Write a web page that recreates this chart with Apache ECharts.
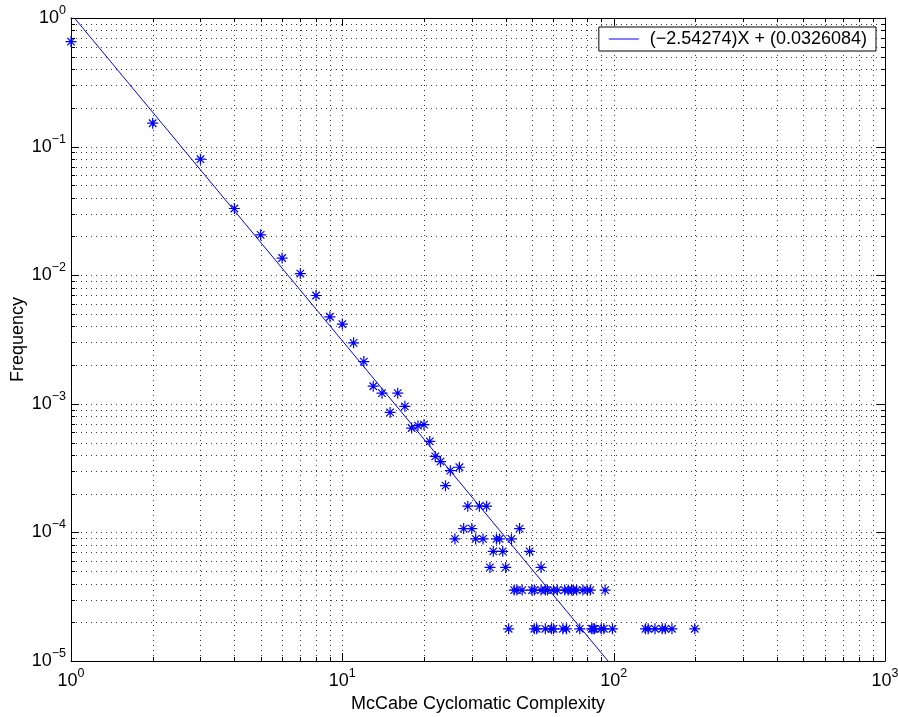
<!DOCTYPE html>
<html>
<head>
<meta charset="utf-8">
<script src="https://cdn.jsdelivr.net/npm/echarts@6/dist/echarts.min.js"></script>
<style>
html,body{margin:0;padding:0;background:#fff;}
#chart{width:898px;height:717px;}
</style>
</head>
<body>
<div id="chart"></div>
<script>
// ---- data ----
const complexity = [
  1,2,3,4,5,6,7,8,9,10,
  11,12,13,14,15,16,17,18,19,20,
  21,22,23,24,25,26,27,28,29,30,
  31,32,33,34,35,36,37,38,39,40,
  41,42,43,44,45,46,49,50,51,51,
  52,54,54,56,56,57,59,60,60,62,
  65,66,67,68,70,71,73,75,77,80,
  82,83,84,85,90,92,93,99,131,134,
  142,151,155,164,199
];
const frequency = [
  0.655,0.152,0.0798,0.033,0.0206,0.0136,0.0103,0.00695,0.00475,0.00417,
  0.00298,0.00213,0.00137,0.00121,0.000857,0.00121,0.000955,0.000648,0.000676,0.000688,
  0.00051,0.00039,0.000355,0.000231,0.000302,0.000089,0.000321,0.000107,0.00016,0.000107,
  0.000089,0.00016,0.000089,0.00016,0.0000534,0.0000712,0.000089,0.000089,0.0000712,0.0000534,
  0.0000178,0.000089,0.0000356,0.0000356,0.000107,0.0000356,0.0000712,0.0000356,0.0000356,0.0000178,
  0.0000178,0.0000356,0.0000534,0.0000356,0.0000178,0.0000356,0.0000178,0.0000356,0.0000178,0.0000356,
  0.0000178,0.0000356,0.0000178,0.0000356,0.0000356,0.0000356,0.0000356,0.0000178,0.0000356,0.0000356,
  0.0000356,0.0000178,0.0000178,0.0000178,0.0000178,0.0000178,0.0000356,0.0000178,0.0000178,0.0000178,
  0.0000178,0.0000178,0.0000178,0.0000178,0.0000178
];
// fitted power law shown in the legend: log10(y) = slope*log10(x) + intercept
const fitSlope = -2.54274;
const fitIntercept = 0.0326084;
const fitLabel = '(\u22122.54274)X + (0.0326084)';

// axis ranges and tick labels
const xRange = [1, 1000];
const yRange = [1e-5, 1];
const xTickExponents = ['0','1','2','3'];
const yTickExponents = ['\u22125','\u22124','\u22123','\u22122','\u22121','0'];
const xDecades = [1, 10, 100, 1000];
const yDecades = [1e-5, 1e-4, 1e-3, 1e-2, 1e-1, 1];
const mantissas = [1,2,3,4,5,6,7,8,9];

// ---- derived ----
const scatterData = complexity.map((c, i) => [c, frequency[i]]);
// fit line endpoints: where the fitted law enters / leaves the visible y range
const fitX = yRange.slice().reverse().map(y => Math.pow(10, (Math.log10(y) - fitIntercept) / fitSlope))
  .map(x => Math.max(xRange[0], Math.min(xRange[1], x)));
const fitData = fitX.map(x => [x, Math.pow(10, fitIntercept) * Math.pow(x, fitSlope)]);

function gridValues(decades) {
  const out = [];
  decades.forEach((d, i) => {
    if (i === decades.length - 1) { out.push([d, 1]); return; }
    mantissas.forEach(m => out.push([+(d * m).toPrecision(6), m === 1 ? 1 : 0]));
  });
  return out;
}
const xGrid = gridValues(xDecades).map(g => [g[0], yRange[0], g[1]]);
const yGrid = gridValues(yDecades).map(g => [xRange[0], g[0], g[1]]);

const FONT = "'Liberation Sans', Arial, Helvetica, sans-serif";
const crisp = v => Math.round(v) + 0.5;
const dotStyle = { stroke: '#3a3a3a', lineWidth: 1, lineDash: [1, 4] };
const tickStyle = { stroke: '#000', lineWidth: 1 };

function expLabel(exps, decades) {
  return function (v) {
    const idx = decades.findIndex(d => Math.abs(Math.log10(d) - Math.log10(v)) < 1e-6);
    if (idx < 0) return '';
    return '{b|10}{s|' + exps[idx] + '}';
  };
}
const richLabel = {
  b: { fontSize: 18, fontFamily: FONT, color: '#000', lineHeight: 28 },
  s: { fontSize: 12.5, fontFamily: FONT, color: '#000', lineHeight: 12, verticalAlign: 'top' }
};

const chart = echarts.init(document.getElementById('chart'), null, { renderer: 'canvas' });
chart.setOption({
  animation: false,
  backgroundColor: '#fff',
  textStyle: { fontFamily: FONT },
  grid: { left: 71, right: 13, top: 18, bottom: 56, containLabel: false, outerBoundsMode: 'none' },
  legend: {
    data: [{ name: fitLabel, icon: 'rect' }],
    right: 22, top: 27,
    orient: 'horizontal',
    backgroundColor: '#fff',
    borderColor: '#000', borderWidth: 1, borderRadius: 0,
    padding: [3, 9, 3, 10],
    itemWidth: 30, itemHeight: 1, itemGap: 10,
    textStyle: { fontSize: 18, fontFamily: FONT, color: '#000', padding: [0, 0, 0, 6] },
    selectedMode: false
  },
  xAxis: [{
    type: 'log', logBase: 10, min: xRange[0], max: xRange[1],
    name: 'McCabe Cyclomatic Complexity', nameLocation: 'middle', nameGap: 34,
    nameMoveOverlap: false,
    nameTextStyle: { fontSize: 18, fontFamily: FONT, color: '#000' },
    axisLine: { show: true, onZero: false, lineStyle: { color: '#000', width: 1 } },
    axisTick: { show: false },
    splitLine: { show: false },
    minorTick: { show: false },
    axisLabel: { margin: 6, formatter: expLabel(xTickExponents, xDecades), rich: richLabel }
  }, {
    type: 'log', logBase: 10, min: xRange[0], max: xRange[1], position: 'top',
    axisLine: { show: true, onZero: false, lineStyle: { color: '#000', width: 1 } },
    axisTick: { show: false }, axisLabel: { show: false }, splitLine: { show: false }
  }],
  yAxis: [{
    type: 'log', logBase: 10, min: yRange[0], max: yRange[1],
    name: 'Frequency', nameLocation: 'middle', nameGap: 44, nameRotate: 90,
    nameMoveOverlap: false,
    nameTextStyle: { fontSize: 18, fontFamily: FONT, color: '#000' },
    axisLine: { show: true, onZero: false, lineStyle: { color: '#000', width: 1 } },
    axisTick: { show: false },
    splitLine: { show: false },
    axisLabel: { margin: 5, formatter: expLabel(yTickExponents, yDecades), rich: richLabel }
  }, {
    type: 'log', logBase: 10, min: yRange[0], max: yRange[1], position: 'right',
    axisLine: { show: true, onZero: false, lineStyle: { color: '#000', width: 1 } },
    axisTick: { show: false }, axisLabel: { show: false }, splitLine: { show: false }
  }],
  series: [{
    // vertical dotted grid lines + ticks on bottom/top
    type: 'custom', name: 'xgrid', silent: true, z: 1,
    xAxisIndex: 0, yAxisIndex: 0,
    data: xGrid,
    renderItem: function (params, api) {
      const v = api.value(0), major = api.value(2) === 1;
      const p1 = api.coord([v, yRange[0]]), p2 = api.coord([v, yRange[1]]);
      const x = crisp(p1[0]), len = major ? 8 : 4;
      const ch = [];
      if (v > xRange[0] && v < xRange[1]) {
        ch.push({ type: 'line', shape: { x1: x, y1: p1[1], x2: x, y2: p2[1] }, style: dotStyle });
      }
      ch.push({ type: 'line', shape: { x1: x, y1: p1[1], x2: x, y2: p1[1] - len }, style: tickStyle });
      ch.push({ type: 'line', shape: { x1: x, y1: p2[1], x2: x, y2: p2[1] + len }, style: tickStyle });
      return { type: 'group', children: ch };
    }
  }, {
    // horizontal dotted grid lines + ticks on left/right
    type: 'custom', name: 'ygrid', silent: true, z: 1,
    xAxisIndex: 0, yAxisIndex: 0,
    data: yGrid,
    renderItem: function (params, api) {
      const v = api.value(1), major = api.value(2) === 1;
      const p1 = api.coord([xRange[0], v]), p2 = api.coord([xRange[1], v]);
      const y = crisp(p1[1]), len = major ? 8 : 4;
      const ch = [];
      if (v > yRange[0] && v < yRange[1]) {
        ch.push({ type: 'line', shape: { x1: p1[0], y1: y, x2: p2[0], y2: y }, style: dotStyle });
      }
      ch.push({ type: 'line', shape: { x1: p1[0], y1: y, x2: p1[0] + len, y2: y }, style: tickStyle });
      ch.push({ type: 'line', shape: { x1: p2[0], y1: y, x2: p2[0] - len, y2: y }, style: tickStyle });
      return { type: 'group', children: ch };
    }
  }, {
    type: 'scatter', name: 'data', z: 3,
    data: scatterData,
    symbol: 'path://M0,5L10,5M5,0L5,10M1.6,1.6L8.4,8.4M1.6,8.4L8.4,1.6',
    symbolSize: 11,
    itemStyle: { color: 'rgba(0,0,0,0)', borderColor: '#0000ff', borderWidth: 1.2, opacity: 1 },
    emphasis: { disabled: true }
  }, {
    type: 'line', name: fitLabel, z: 4,
    data: fitData,
    symbol: 'none', showSymbol: false,
    lineStyle: { color: '#0000ff', width: 1 },
    itemStyle: { color: '#0000ff' },
    clip: true
  }]
});
</script>
</body>
</html>
